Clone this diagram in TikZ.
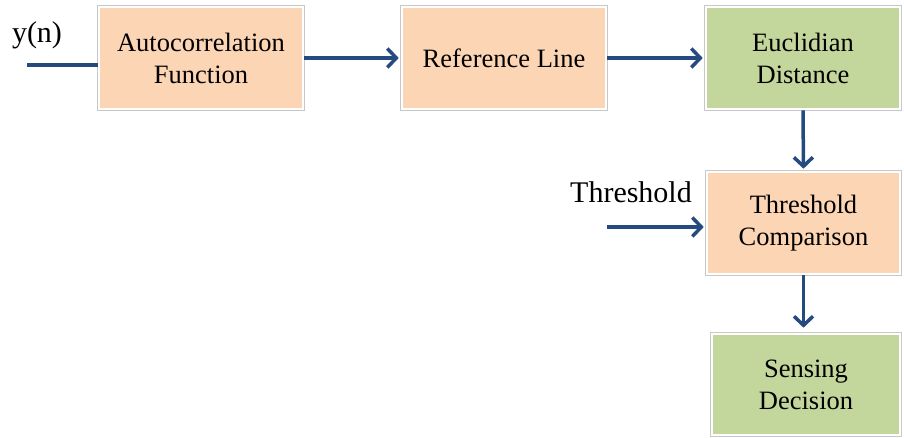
\documentclass[tikz,border=0pt]{standalone}
\usepackage{fontspec}
\setmainfont{Liberation Serif}
\usetikzlibrary{arrows.meta}
\definecolor{peach}{RGB}{252,213,181}
\definecolor{leaf}{RGB}{195,214,155}
\definecolor{arrowblue}{RGB}{36,74,128}
\definecolor{rim}{RGB}{200,200,200}
\begin{document}
\begin{tikzpicture}[x=1pt,y=1pt,
		block/.style={preaction={draw=rim,line width=4pt},draw=white,line width=2.6pt,
			minimum width=204pt,minimum height=102pt,align=center,inner sep=0pt,
			font=\fontsize{26.5}{32}\selectfont},
		arr/.style={draw=arrowblue,line width=3.5pt,-{Straight Barb[length=9pt,width=19pt]},shorten >=2pt},
		lab/.style={font=\fontsize{30}{36}\selectfont,inner sep=0pt}]
	\useasboundingbox (0,0) rectangle (904,438);
	% blocks
	\node [block,fill=peach] (acf) at (201,380) {Autocorrelation\\Function};
	\node [block,fill=peach] (ref) at (504,380) {Reference Line};
	\node [block,fill=leaf,minimum width=194pt] (euc) at (803,380) {Euclidian\\Distance};
	\node [block,fill=peach,minimum width=193pt] (thr) at (803.5,215) {Threshold\\Comparison};
	\node [block,fill=leaf,minimum width=188pt,minimum height=101pt] (sen) at (806,53.5) {Sensing\\Decision};
	% inputs
	\node [lab] (yn) at (37,403) {y(n)};
	\node [lab] (thl) at (631,246) {Threshold};
	\coordinate (ynin) at (27,373);
	\coordinate (thin) at (607,211);
	% connectors
	\draw [draw=arrowblue,line width=3.5pt] (ynin) -- (ynin -| acf.west);
	\draw [arr] (acf.east) -- (ref.west);
	\draw [arr] (ref.east) -- (euc.west);
	\draw [arr] (euc.south) -- (thr.north);
	\draw [arr] (thin) -- (thin -| thr.west);
	\draw [arr,shorten >=5pt] (thr.south) -- (thr.south |- sen.north);
\end{tikzpicture}
\end{document}
